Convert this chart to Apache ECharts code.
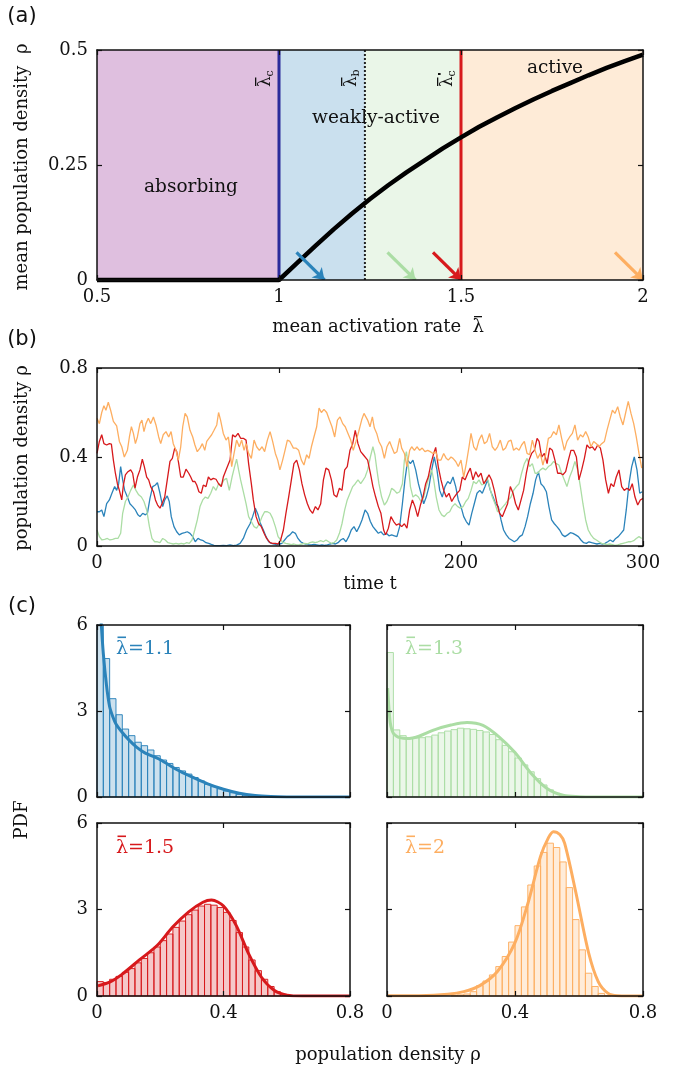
<!DOCTYPE html>
<html><head><meta charset="utf-8">
<script src="https://cdn.jsdelivr.net/npm/echarts@6/dist/echarts.min.js"></script>
<style>html,body{margin:0;padding:0;background:#fff}#c{width:685px;height:1070px}</style>
</head><body><div id="c"></div>
<script>
// ---------------- DATA ----------------
// panel (a)
const regionBounds = [0.5, 1.0, 1.236, 1.5, 2.0];
const lambdaC = 1.0, lambdaB = 1.236, lambdaCp = 1.5;
const meanRho = [[0.5,0],[1.0,0],[1.05,0.037],[1.1,0.074],[1.15,0.11],[1.2,0.144],[1.25,0.176],[1.3,0.206],[1.35,0.234],[1.4,0.26],[1.45,0.286],[1.5,0.31],[1.55,0.333],[1.6,0.354],[1.65,0.374],[1.7,0.393],[1.75,0.411],[1.8,0.428],[1.85,0.445],[1.9,0.461],[1.95,0.476],[2.0,0.49]];
const arrowTips = [[1.125,0],[1.375,0],[1.5,0],[2.0,0]];
const arrowTails = [[1.048,0.06],[1.298,0.06],[1.423,0.06],[1.923,0.06]];
const aXTicks = [0.5, 2, 0.5];   // min, max, interval
const aYTicks = [0, 0.5, 0.25];
// panel (b)
const bXTicks = [0, 300, 100];
const bYTicks = [0, 0.8, 0.4];
const tsBlue = [[0,0.154],[1.3,0.154],[2.6,0.162],[3.8,0.132],[5.3,0.19],[6.8,0.207],[8.2,0.237],[9.7,0.267],[10.8,0.25],[11.9,0.28],[13.0,0.357],[14.1,0.297],[15.2,0.25],[16.7,0.22],[18.1,0.19],[19.6,0.177],[21.1,0.162],[22.5,0.14],[23.6,0.132],[25.1,0.147],[26.6,0.14],[27.7,0.147],[29.1,0.214],[30.6,0.267],[32.1,0.274],[33.2,0.285],[34.6,0.237],[36.1,0.177],[37.2,0.207],[38.6,0.225],[39.7,0.20],[40.8,0.132],[42.3,0.087],[43.8,0.064],[45.2,0.05],[46.7,0.057],[48.2,0.06],[49.6,0.064],[51.1,0.057],[52.6,0.042],[54.0,0.019],[55.5,0.034],[57.0,0.027],[58.4,0.024],[59.9,0.015],[61.4,0.012],[62.8,0.007],[64.3,0.003],[65.8,0.0015],[67.6,0.0015],[69.4,0.003],[71.2,0.002],[73.1,0.005],[74.9,0.002],[76.7,0.004],[78.6,0.012],[80.4,0.034],[82.2,0.072],[84.1,0.10],[85.5,0.132],[87.0,0.17],[88.5,0.14],[89.9,0.10],[91.4,0.072],[92.9,0.042],[94.3,0.019],[95.8,0.012],[97.3,0.009],[98.7,0.005],[100.2,0.009],[101.6,0.012],[103.1,0.027],[104.6,0.042],[106.0,0.05],[107.5,0.064],[109.0,0.057],[110.4,0.034],[111.9,0.019],[113.4,0.012],[114.8,0.009],[116.3,0.005],[117.8,0.005],[119.2,0.007],[120.7,0.005],[122.2,0.003],[123.6,0.005],[125.1,0.003],[126.6,0.005],[128.0,0.009],[129.5,0.012],[131.0,0.009],[132.4,0.015],[133.9,0.027],[135.3,0.034],[136.8,0.019],[138.3,0.042],[139.7,0.072],[141.2,0.087],[142.7,0.064],[144.1,0.087],[145.6,0.117],[147.3,0.162],[148.7,0.147],[150.2,0.11],[151.6,0.087],[153.1,0.072],[154.6,0.057],[156.0,0.064],[157.5,0.05],[159.0,0.057],[160.4,0.046],[161.9,0.05],[163.4,0.046],[164.8,0.042],[166.3,0.087],[167.8,0.19],[169.2,0.297],[170.7,0.386],[172.2,0.37],[173.6,0.386],[175.1,0.342],[176.6,0.28],[178.0,0.237],[179.5,0.19],[180.9,0.22],[182.4,0.267],[183.9,0.342],[185.3,0.40],[186.8,0.342],[188.3,0.25],[189.7,0.22],[191.2,0.267],[192.7,0.29],[194.1,0.28],[195.6,0.31],[197.1,0.267],[198.5,0.207],[200.0,0.177],[201.5,0.132],[202.9,0.11],[204.4,0.094],[205.9,0.147],[207.3,0.19],[208.8,0.237],[210.3,0.25],[211.7,0.237],[213.2,0.267],[214.6,0.297],[216.1,0.25],[217.6,0.22],[219.0,0.19],[220.5,0.177],[222.0,0.117],[223.4,0.072],[224.9,0.05],[226.4,0.034],[227.8,0.027],[229.3,0.019],[230.8,0.027],[232.2,0.042],[233.7,0.05],[235.2,0.087],[236.6,0.132],[238.1,0.19],[239.6,0.237],[241.0,0.297],[242.5,0.334],[243.9,0.28],[245.4,0.267],[246.9,0.244],[248.3,0.177],[249.8,0.117],[251.3,0.10],[252.7,0.087],[254.2,0.072],[255.7,0.05],[257.1,0.042],[258.6,0.05],[260.1,0.06],[261.5,0.057],[263.0,0.05],[264.5,0.042],[265.9,0.027],[267.4,0.015],[268.9,0.012],[270.3,0.019],[271.8,0.015],[273.3,0.012],[274.7,0.009],[276.2,0.012],[277.7,0.009],[279.1,0.012],[280.6,0.019],[282.0,0.027],[283.5,0.019],[285.0,0.034],[286.4,0.042],[287.9,0.057],[289.4,0.072],[290.8,0.162],[292.3,0.28],[293.8,0.357],[295.2,0.40],[296.7,0.342],[298.2,0.237],[299.6,0.244]];
const tsGreen = [[0,0.072],[1.3,0.042],[2.7,0.027],[4.2,0.03],[5.7,0.034],[7.1,0.027],[8.6,0.03],[10.1,0.034],[11.5,0.034],[13.0,0.057],[14.1,0.147],[15.6,0.20],[17.0,0.22],[18.5,0.25],[20.0,0.274],[21.4,0.25],[22.9,0.23],[24.4,0.22],[25.8,0.20],[27.3,0.162],[28.8,0.087],[30.2,0.034],[31.7,0.019],[33.2,0.019],[34.6,0.015],[36.1,0.034],[37.5,0.027],[39.0,0.015],[40.5,0.012],[41.9,0.009],[43.4,0.012],[44.9,0.009],[46.3,0.012],[47.8,0.009],[49.3,0.015],[50.7,0.012],[52.2,0.027],[53.7,0.072],[55.1,0.117],[56.6,0.177],[58.1,0.207],[59.5,0.22],[61.0,0.214],[62.5,0.237],[63.9,0.267],[65.4,0.25],[66.8,0.28],[68.3,0.274],[69.8,0.297],[71.2,0.304],[72.7,0.25],[74.2,0.31],[75.6,0.357],[76.7,0.39],[77.8,0.342],[78.9,0.297],[80.4,0.244],[81.9,0.19],[83.3,0.132],[84.8,0.11],[86.3,0.087],[87.7,0.08],[89.2,0.10],[90.7,0.132],[92.1,0.154],[93.6,0.154],[95.1,0.147],[96.5,0.124],[98.0,0.087],[99.5,0.042],[100.9,0.027],[102.4,0.015],[103.8,0.012],[105.3,0.009],[106.8,0.006],[108.2,0.009],[109.7,0.005],[111.2,0.006],[112.6,0.009],[114.1,0.012],[115.6,0.009],[117.0,0.015],[118.5,0.019],[120.0,0.015],[121.4,0.019],[122.9,0.024],[124.4,0.019],[125.8,0.027],[127.3,0.019],[128.8,0.012],[130.2,0.015],[131.7,0.027],[133.2,0.057],[134.6,0.10],[136.1,0.162],[137.5,0.207],[139.0,0.237],[140.5,0.267],[141.9,0.28],[143.4,0.297],[144.9,0.28],[146.3,0.297],[147.3,0.31],[148.7,0.342],[150.2,0.40],[151.6,0.446],[152.7,0.41],[153.8,0.342],[154.9,0.28],[156.4,0.22],[157.9,0.184],[159.3,0.20],[160.8,0.23],[161.9,0.26],[163.4,0.25],[164.8,0.237],[166.3,0.244],[167.8,0.28],[168.9,0.386],[170.0,0.424],[171.1,0.357],[172.2,0.267],[173.6,0.22],[175.1,0.23],[176.6,0.22],[178.0,0.20],[179.5,0.22],[180.9,0.267],[182.4,0.31],[183.9,0.342],[185.0,0.297],[186.4,0.22],[187.9,0.162],[189.4,0.14],[190.8,0.132],[192.3,0.147],[193.8,0.154],[195.2,0.177],[196.7,0.19],[198.2,0.177],[199.6,0.17],[201.1,0.177],[202.6,0.20],[204.0,0.214],[205.5,0.25],[206.9,0.29],[208.4,0.28],[209.9,0.297],[211.4,0.274],[212.8,0.28],[214.3,0.31],[215.7,0.267],[217.2,0.22],[218.7,0.19],[220.1,0.154],[221.6,0.162],[223.1,0.177],[224.5,0.19],[226.0,0.207],[227.5,0.22],[228.9,0.25],[230.4,0.267],[231.9,0.28],[233.3,0.327],[234.8,0.37],[236.3,0.394],[237.7,0.357],[239.2,0.37],[240.7,0.327],[242.1,0.327],[243.6,0.342],[245.0,0.35],[246.5,0.342],[248.0,0.357],[249.4,0.364],[250.9,0.38],[252.4,0.37],[253.8,0.364],[255.3,0.327],[256.8,0.297],[258.2,0.267],[259.7,0.31],[261.2,0.342],[262.6,0.38],[264.1,0.342],[265.6,0.267],[267.0,0.19],[268.5,0.117],[269.9,0.072],[271.4,0.05],[272.9,0.034],[274.4,0.027],[275.8,0.019],[277.3,0.012],[278.8,0.009],[280.2,0.006],[281.7,0.009],[283.2,0.006],[284.6,0.003],[286.1,0.005],[287.5,0.009],[289.0,0.012],[290.5,0.015],[291.9,0.019],[293.4,0.019],[294.9,0.024],[296.3,0.034],[297.8,0.042],[299.3,0.034]];
const tsRed = [[0,0.416],[1.3,0.47],[2.6,0.50],[3.8,0.46],[5.3,0.454],[6.8,0.46],[7.9,0.458],[9.0,0.386],[10.1,0.327],[11.2,0.28],[12.3,0.25],[13.6,0.207],[14.5,0.274],[15.6,0.32],[17.0,0.334],[18.5,0.342],[19.6,0.327],[20.9,0.26],[22.2,0.31],[23.6,0.342],[24.9,0.39],[26.0,0.357],[27.3,0.31],[28.4,0.297],[29.5,0.267],[31.0,0.244],[32.1,0.207],[33.3,0.184],[34.6,0.17],[35.7,0.19],[37.2,0.22],[38.6,0.297],[40.1,0.38],[41.4,0.394],[42.7,0.44],[43.8,0.424],[44.9,0.37],[46.0,0.31],[47.4,0.31],[48.9,0.345],[50.4,0.327],[51.5,0.31],[52.6,0.29],[53.8,0.29],[54.8,0.274],[56.0,0.244],[57.3,0.237],[58.4,0.274],[59.9,0.267],[61.2,0.31],[62.5,0.297],[63.9,0.304],[65.4,0.30],[66.8,0.28],[68.3,0.267],[69.4,0.31],[70.9,0.342],[72.0,0.364],[73.1,0.386],[74.5,0.50],[76.0,0.49],[77.5,0.506],[78.9,0.484],[80.4,0.484],[81.9,0.476],[83.3,0.37],[84.8,0.28],[85.9,0.207],[87.4,0.132],[88.8,0.10],[90.3,0.087],[91.8,0.057],[93.2,0.034],[95.1,0.015],[96.5,0.012],[98.0,0.012],[99.5,0.009],[100.9,0.027],[102.4,0.072],[103.8,0.147],[105.3,0.22],[106.8,0.297],[108.2,0.37],[109.7,0.386],[111.2,0.342],[112.6,0.28],[114.1,0.23],[115.6,0.19],[117.0,0.162],[118.5,0.147],[120.0,0.177],[121.4,0.162],[122.9,0.19],[124.4,0.297],[125.8,0.35],[127.3,0.342],[128.8,0.297],[130.2,0.23],[131.7,0.22],[133.2,0.26],[134.6,0.25],[136.1,0.342],[137.5,0.357],[139.0,0.43],[140.5,0.46],[141.9,0.52],[143.4,0.46],[144.9,0.424],[146.3,0.41],[147.3,0.41],[148.7,0.386],[150.2,0.327],[151.6,0.267],[153.1,0.22],[154.6,0.177],[156.0,0.147],[157.5,0.072],[158.6,0.05],[160.1,0.08],[161.5,0.132],[163.0,0.11],[164.5,0.094],[165.9,0.10],[167.4,0.087],[168.9,0.10],[170.3,0.08],[171.8,0.162],[173.3,0.207],[174.7,0.177],[176.2,0.132],[177.7,0.184],[179.1,0.22],[180.6,0.28],[182.0,0.31],[183.5,0.37],[185.0,0.416],[186.1,0.443],[187.5,0.357],[189.0,0.297],[190.5,0.25],[191.9,0.22],[193.4,0.237],[194.9,0.20],[196.3,0.22],[197.8,0.237],[199.3,0.25],[200.7,0.31],[202.2,0.297],[203.7,0.327],[205.1,0.35],[206.6,0.297],[208.1,0.334],[209.5,0.31],[211.0,0.327],[212.5,0.28],[213.9,0.297],[215.4,0.32],[216.8,0.297],[218.3,0.25],[219.8,0.19],[221.2,0.147],[222.7,0.132],[224.2,0.162],[225.6,0.19],[227.1,0.267],[228.6,0.237],[230.0,0.19],[231.5,0.162],[233.0,0.207],[234.4,0.25],[235.9,0.327],[237.4,0.386],[238.8,0.416],[240.3,0.43],[241.8,0.484],[242.9,0.47],[244.3,0.40],[245.8,0.416],[247.3,0.37],[248.7,0.44],[250.2,0.43],[251.6,0.386],[253.1,0.327],[254.6,0.327],[256.0,0.32],[257.5,0.334],[259.0,0.386],[260.4,0.43],[261.9,0.43],[263.4,0.40],[264.8,0.297],[266.3,0.342],[267.8,0.394],[269.2,0.454],[270.7,0.44],[272.2,0.446],[273.6,0.43],[275.1,0.454],[276.6,0.44],[278.0,0.386],[279.5,0.297],[281.0,0.237],[282.4,0.28],[283.9,0.267],[285.3,0.31],[286.8,0.342],[288.3,0.267],[289.7,0.25],[291.2,0.26],[292.7,0.25],[294.1,0.28],[295.6,0.22],[297.1,0.184],[298.5,0.207],[300,0.214]];
const tsOrange = [[0,0.574],[1.3,0.55],[2.6,0.60],[3.8,0.63],[4.9,0.61],[6.2,0.646],[7.5,0.61],[9.0,0.56],[10.8,0.54],[12.3,0.47],[13.6,0.446],[15.0,0.40],[16.7,0.43],[17.8,0.49],[18.9,0.536],[20.0,0.506],[21.1,0.46],[22.2,0.49],[23.6,0.55],[24.7,0.566],[25.8,0.514],[26.9,0.55],[28.2,0.574],[29.5,0.55],[31.0,0.58],[32.4,0.544],[33.9,0.49],[35.0,0.46],[36.4,0.50],[37.9,0.514],[39.4,0.49],[40.7,0.514],[41.9,0.46],[43.4,0.43],[44.7,0.386],[46.0,0.446],[47.1,0.536],[48.4,0.596],[49.6,0.58],[51.1,0.52],[52.6,0.49],[53.8,0.454],[55.1,0.424],[56.6,0.44],[57.9,0.46],[59.2,0.43],[60.3,0.47],[61.5,0.484],[63.0,0.50],[64.3,0.52],[65.8,0.544],[66.8,0.60],[67.9,0.566],[69.4,0.506],[70.9,0.476],[72.2,0.49],[73.1,0.43],[74.0,0.357],[75.3,0.416],[76.7,0.476],[78.2,0.446],[79.5,0.476],[80.8,0.43],[81.9,0.46],[83.3,0.416],[84.8,0.394],[86.3,0.476],[87.7,0.446],[89.2,0.43],[90.7,0.446],[92.1,0.424],[93.6,0.476],[95.1,0.514],[96.5,0.47],[98.0,0.416],[99.3,0.386],[100.5,0.342],[102.0,0.386],[103.3,0.43],[104.6,0.476],[106.0,0.47],[107.9,0.44],[109.3,0.44],[110.8,0.43],[112.3,0.386],[113.7,0.364],[115.2,0.41],[116.5,0.394],[117.8,0.446],[119.2,0.49],[120.7,0.536],[122.0,0.62],[123.3,0.60],[124.7,0.614],[126.2,0.60],[127.7,0.566],[129.1,0.536],[130.6,0.49],[132.1,0.566],[133.5,0.58],[135.0,0.55],[136.4,0.536],[137.9,0.506],[139.4,0.476],[140.8,0.43],[142.3,0.47],[143.8,0.514],[145.4,0.566],[146.7,0.596],[148.7,0.566],[150.0,0.536],[151.3,0.58],[152.4,0.53],[153.7,0.506],[154.9,0.47],[156.4,0.446],[157.9,0.394],[159.3,0.446],[160.8,0.47],[161.9,0.446],[163.4,0.416],[164.8,0.424],[166.3,0.484],[167.4,0.44],[168.9,0.416],[170.3,0.357],[171.8,0.43],[172.9,0.446],[174.4,0.43],[175.8,0.446],[177.3,0.43],[178.7,0.44],[180.2,0.424],[181.7,0.43],[183.1,0.424],[184.6,0.416],[186.1,0.424],[187.5,0.386],[189.0,0.386],[190.5,0.416],[191.9,0.394],[193.0,0.386],[194.5,0.40],[195.6,0.394],[197.1,0.38],[198.5,0.357],[200.0,0.386],[201.5,0.31],[202.9,0.37],[204.4,0.446],[205.5,0.506],[207.0,0.446],[208.4,0.43],[209.9,0.476],[211.4,0.50],[212.8,0.46],[214.3,0.47],[215.7,0.506],[217.2,0.446],[218.7,0.43],[220.1,0.446],[221.6,0.476],[223.1,0.43],[224.5,0.44],[226.0,0.47],[227.5,0.476],[228.9,0.43],[230.4,0.44],[231.9,0.43],[233.3,0.454],[234.8,0.47],[236.3,0.416],[237.7,0.41],[239.2,0.476],[240.7,0.43],[242.1,0.394],[243.6,0.416],[245.0,0.364],[246.5,0.41],[248.0,0.484],[249.4,0.49],[250.9,0.514],[252.4,0.50],[253.8,0.544],[255.3,0.484],[256.8,0.43],[258.2,0.47],[259.7,0.49],[261.2,0.506],[262.6,0.544],[264.1,0.476],[265.6,0.50],[267.0,0.49],[268.5,0.514],[269.9,0.49],[271.4,0.446],[272.9,0.47],[274.4,0.46],[275.8,0.446],[277.3,0.46],[278.8,0.47],[280.2,0.52],[281.7,0.566],[283.2,0.61],[284.6,0.596],[286.1,0.626],[287.5,0.58],[289.0,0.544],[290.5,0.60],[291.9,0.65],[293.4,0.596],[294.9,0.55],[296.3,0.49],[297.8,0.416],[299.3,0.35]];
// panel (c)
const cXTicks = [0, 0.8, 0.4];
const cYTicks = [0, 6, 3];
const binWidth = 0.02;
const hist11 = [7.2,4.83,3.43,2.87,2.37,2.14,1.91,1.79,1.64,1.44,1.29,1.17,1.03,0.91,0.80,0.68,0.56,0.44,0.36,0.29,0.21,0.15,0.09,0.06,0.03,0.01,0,0,0,0,0,0,0,0,0,0,0,0,0,0];
const hist13 = [5.04,2.34,2.14,2.06,2.06,2.07,2.10,2.16,2.24,2.30,2.35,2.40,2.38,2.36,2.32,2.27,2.18,2.00,1.80,1.58,1.36,1.12,0.88,0.64,0.42,0.25,0.13,0.06,0.02,0.01,0,0,0,0,0,0,0,0,0,0];
const hist15 = [0.50,0.47,0.58,0.68,0.82,0.95,1.15,1.30,1.50,1.70,1.92,2.15,2.38,2.60,2.82,2.98,3.12,3.18,3.15,3.07,2.90,2.62,2.20,1.70,1.25,0.88,0.58,0.33,0.15,0.06,0.02,0.01,0,0,0,0,0,0,0,0];
const hist20 = [0,0,0,0,0,0,0,0,0,0,0.02,0.04,0.07,0.15,0.36,0.52,0.73,1.02,1.37,1.87,2.44,3.09,3.85,4.51,4.98,5.30,5.15,4.65,3.76,2.65,1.60,0.79,0.33,0.09,0.02,0,0,0,0,0];
const curve11 = [[0.012,6.3],[0.02,5.0],[0.03,3.9],[0.04,3.15],[0.05,2.8],[0.06,2.55],[0.08,2.25],[0.1,2.0],[0.125,1.74],[0.15,1.55],[0.2,1.3],[0.25,0.97],[0.3,0.70],[0.35,0.46],[0.4,0.27],[0.45,0.13],[0.5,0.05],[0.55,0.015],[0.6,0.003],[0.7,0],[0.8,0]];
const curve13 = [[0.002,3.8],[0.006,3.1],[0.01,2.6],[0.015,2.35],[0.02,2.22],[0.03,2.12],[0.04,2.07],[0.06,2.04],[0.08,2.06],[0.1,2.12],[0.15,2.35],[0.2,2.51],[0.25,2.6],[0.3,2.5],[0.35,2.1],[0.4,1.55],[0.45,0.83],[0.5,0.3],[0.55,0.06],[0.6,0.01],[0.65,0],[0.8,0]];
const curve15 = [[0.003,0.35],[0.04,0.48],[0.08,0.76],[0.135,1.26],[0.19,1.75],[0.24,2.4],[0.29,2.92],[0.335,3.25],[0.362,3.33],[0.4,3.12],[0.44,2.45],[0.48,1.45],[0.52,0.65],[0.56,0.2],[0.6,0.03],[0.65,0],[0.8,0]];
const curve20 = [[0,0.005],[0.1,0.01],[0.19,0.06],[0.24,0.15],[0.29,0.36],[0.345,0.85],[0.4,1.85],[0.44,3.2],[0.48,4.85],[0.505,5.5],[0.52,5.7],[0.54,5.6],[0.555,5.3],[0.59,3.6],[0.63,1.5],[0.66,0.5],[0.69,0.1],[0.72,0.01],[0.8,0]];
const lambdaValues = ['1.1','1.3','1.5','2'];

// ---------------- STYLE / LAYOUT ----------------
const SERIF = 'DejaVu Serif';
const C = {blue:'#2b83ba', green:'#abdda4', red:'#d7191c', orange:'#fdae61'};
const FILL = {blue:'rgba(43,131,186,0.25)', green:'rgba(171,221,164,0.25)', red:'rgba(215,25,28,0.25)', orange:'rgba(253,174,97,0.25)'};
const regionColors = ['#dfbfdf', FILL.blue, FILL.green, FILL.orange];

const grids = [
  {left:97, top:50, width:546, height:230},
  {left:97, top:368, width:546, height:178},
  {left:97, top:625, width:253, height:172},
  {left:387, top:625, width:256, height:172},
  {left:97, top:823, width:253, height:173},
  {left:387, top:823, width:256, height:173}
];
const gridTicks = [[aXTicks,aYTicks],[bXTicks,bYTicks],[cXTicks,cYTicks],[cXTicks,cYTicks],[cXTicks,cYTicks],[cXTicks,cYTicks]];
const showXLab = [true,true,false,false,true,true];
const showYLab = [true,true,true,false,true,false];

const axLine = {show:true, onZero:false, lineStyle:{color:'#111', width:1.5}};
const axTick = {show:true, inside:true, length:5, lineStyle:{color:'#111', width:1.2}};
const labStyle = {fontFamily:SERIF, fontSize:18, color:'#111'};
const xAxes = [], yAxes = [];
grids.forEach((g, i) => {
  const [xt, yt] = gridTicks[i];
  ['bottom','top'].forEach((pos, k) => xAxes.push({
    type:'value', gridIndex:i, position:pos, min:xt[0], max:xt[1], interval:xt[2], z:10,
    axisLine:axLine, axisTick:axTick, splitLine:{show:false},
    axisLabel:Object.assign({show: k===0 && showXLab[i], margin:8}, labStyle)
  }));
  ['left','right'].forEach((pos, k) => yAxes.push({
    type:'value', gridIndex:i, position:pos, min:yt[0], max:yt[1], interval:yt[2], z:10,
    axisLine:axLine, axisTick:axTick, splitLine:{show:false},
    axisLabel:Object.assign({show: k===0 && showYLab[i], margin:9}, labStyle)
  }));
});

const series = [];
series.push({
  type:'line', xAxisIndex:0, yAxisIndex:0, data:[], silent:true,
  markArea:{silent:true, data: regionColors.map((col, i) => [
    {xAxis:regionBounds[i], itemStyle:{color:col, opacity:1}}, {xAxis:regionBounds[i+1]}
  ])}
});
const vline = (x, color, type, w) => ({
  type:'line', xAxisIndex:0, yAxisIndex:0, symbol:'none', z:3, silent:true,
  data:[[x, aYTicks[0]],[x, aYTicks[1]]], lineStyle:{color, width:w, type}
});
series.push(vline(lambdaC, '#2b2b9a', 'solid', 3));
series.push(vline(lambdaB, '#222', [2,2], 2));
series.push(vline(lambdaCp, C.red, 'solid', 3));
series.push({type:'line', xAxisIndex:0, yAxisIndex:0, symbol:'none', z:5, data:meanRho,
  lineStyle:{color:'#000', width:4.5}, clip:false});
const arrowCols = [C.blue, C.green, C.red, C.orange];
series.push({type:'lines', coordinateSystem:'cartesian2d', xAxisIndex:0, yAxisIndex:0, z:6,
  symbol:['none','arrow'], symbolSize:11,
  data: arrowTips.map((tip, i) => ({coords:[arrowTails[i], tip], lineStyle:{color:arrowCols[i], width:3.2, opacity:1}}))
});
[[tsBlue,C.blue],[tsGreen,C.green],[tsRed,C.red],[tsOrange,C.orange]].forEach(([d,col]) => {
  series.push({type:'line', xAxisIndex:2, yAxisIndex:2, symbol:'none', data:d,
    lineStyle:{color:col, width:1.3}, z:3});
});
const hists = [[hist11,curve11,'blue'],[hist13,curve13,'green'],[hist15,curve15,'red'],[hist20,curve20,'orange']];
hists.forEach(([h, cv, key], j) => {
  const gi = 2 + j;
  series.push({
    type:'custom', xAxisIndex:2*gi, yAxisIndex:2*gi, z:2,
    data: h.map((v, i) => [i*binWidth, v]),
    renderItem: (params, api) => {
      const x0 = api.value(0), v = api.value(1);
      if (v <= 0) return null;
      const p0 = api.coord([x0, v]), p1 = api.coord([x0 + binWidth, 0]);
      const cs = params.coordSys;
      const r = echarts.graphic.clipRectByRect(
        {x:p0[0], y:p0[1], width:p1[0]-p0[0], height:p1[1]-p0[1]},
        {x:cs.x, y:cs.y, width:cs.width, height:cs.height});
      if (!r) return null;
      return {type:'rect', shape:r, style:{fill:FILL[key], stroke:C[key], lineWidth:1, opacity:0.95}};
    }
  });
  series.push({type:'line', xAxisIndex:2*gi, yAxisIndex:2*gi, symbol:'none', smooth:0.3, z:4,
    data:cv, lineStyle:{color:C[key], width:3}, clip:true});
});

// ---------------- TEXT ----------------
const Z = 100;
const txt = (x, y, text, size, opts={}) => ({
  type:'text', x, y, z:Z, rotation: opts.rot || 0,
  style:{text, fontFamily: opts.family || SERIF, fontSize:size, fill: opts.color || '#111',
    align: opts.align || 'center', verticalAlign:'middle'}
});
const bar = (x, y, w, color, h) => ({type:'rect', z:Z, shape:{x, y, width:w, height:h || 1.3}, style:{fill:color}});
const sub = (x, y, text, size, color, align) => ({type:'text', z:Z, x, y,
  style:{text, fontFamily:SERIF, fontSize:size, fill:color, align: align || 'left', verticalAlign:'middle'}});
function lamGroup(x, y, subTxt, prime, rot) {
  const ch = [sub(0, 0, 'λ', 17, '#111'), bar(1, -11, 8.5, '#111', 1.3), sub(10.5, 4, subTxt, 11, '#111')];
  if (prime) ch.push(bar(12, -10, 2, '#111', 2.6));
  return {type:'group', x, y, rotation:rot, z:Z, children:ch};
}
function lamEq(x, y, val, color) {
  return {type:'group', x, y, z:Z, children:[sub(0, 0, 'λ='+val, 19, color), bar(1.5, -12.5, 8.5, color, 1.6)]};
}
const graphic = [
  txt(22, 17, '(a)', 21, {family:'DejaVu Sans'}),
  txt(22, 340, '(b)', 21, {family:'DejaVu Sans'}),
  txt(22, 607, '(c)', 21, {family:'DejaVu Sans'}),
  txt(22, 167, 'mean population density  ρ', 18, {rot:Math.PI/2}),
  {type:'group', x:484, y:327, z:Z, children:[sub(0, 0, 'mean activation rate  λ', 18, '#111', 'right'), bar(-10, -11, 8, '#111', 1.3)]},
  txt(22, 458, 'population density ρ', 18, {rot:Math.PI/2}),
  txt(370, 584, 'time t', 18),
  txt(22, 820, 'PDF', 18, {rot:Math.PI/2}),
  txt(388, 1055, 'population density ρ', 18),
  txt(191, 187, 'absorbing', 18.5),
  txt(376, 118, 'weakly-active', 18.5),
  txt(555, 68, 'active', 18.5),
  lamGroup(266, 87, 'c', false, Math.PI/2),
  lamGroup(352, 87, 'b', false, Math.PI/2),
  lamGroup(448, 87, 'c', true, Math.PI/2),
  lamEq(116, 649, lambdaValues[0], C.blue),
  lamEq(405, 649, lambdaValues[1], C.green),
  lamEq(116, 848, lambdaValues[2], C.red),
  lamEq(405, 848, lambdaValues[3], C.orange)
];

const chart = echarts.init(document.getElementById('c'), null, {renderer:'canvas', width:685, height:1070});
chart.setOption({
  animation:false, backgroundColor:'#fff',
  grid: grids, xAxis: xAxes, yAxis: yAxes, series, graphic
});
</script></body></html>
